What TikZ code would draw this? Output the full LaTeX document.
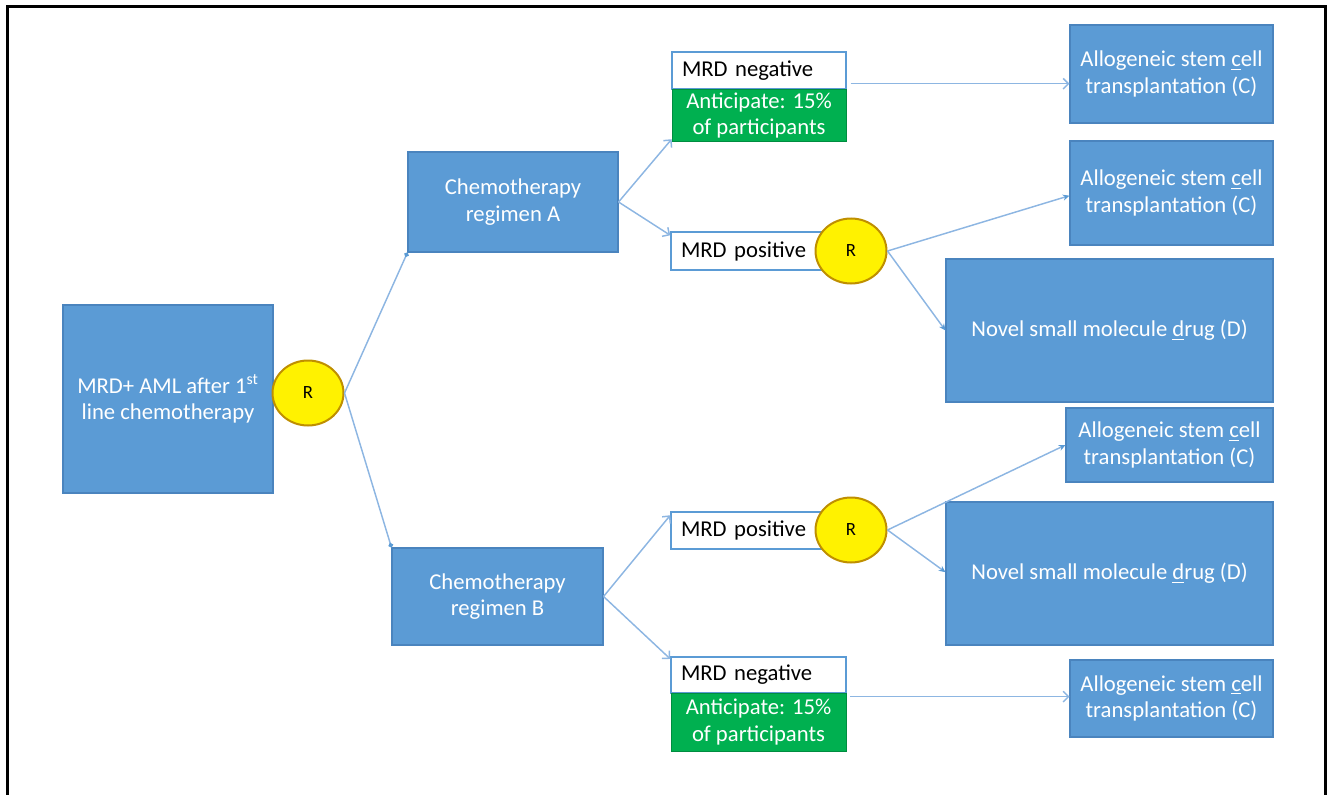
\documentclass[tikz,border=0pt]{standalone}
\usepackage{fontspec}
\setmainfont{Carlito}
\usetikzlibrary{arrows.meta,shapes.geometric}
\definecolor{boxblue}{HTML}{5B9BD5}
\definecolor{boxedge}{HTML}{4A84BE}
\definecolor{linkblue}{HTML}{8DB6E2}
\definecolor{tealgreen}{HTML}{00B050}
\definecolor{rring}{HTML}{BF8F00}
\newcommand{\pxl}[1]{#1*0.75pt}
\newcommand{\fs}{\fontsize{17}{19.75}\selectfont}
\tikzset{
  bluebox/.style={rectangle, fill=boxblue, draw=boxedge, line width=0.8pt, text=white, align=center, inner sep=0pt, font=\fs},
  whitebox/.style={rectangle, fill=white, draw=boxblue, line width=1.1pt, text=black, align=left, inner xsep=7.5pt, inner ysep=0pt, font=\fs},
  greenbox/.style={rectangle, fill=tealgreen, draw=tealgreen!80!black, line width=0.6pt, text=white, align=center, inner sep=0pt, font=\fs},
  rnode/.style={ellipse, fill=yellow, draw=rring, line width=1.5pt, inner sep=0pt, font=\fontsize{14}{16}\selectfont, minimum width=\pxl{71}, minimum height=\pxl{65}},
  link/.style={draw=linkblue, line width=1.1pt},
  dotlink/.style={link, -{Circle[length=3.5pt, color=boxblue, fill=boxblue]}},
  openlink/.style={link, -{Straight Barb[length=4pt, width=8pt]}},
  filllink/.style={link, -{Stealth[length=5pt, width=4.5pt, color=boxblue, fill=boxblue]}},
}
\begin{document}
\begin{tikzpicture}[x=0.75pt, y=-0.75pt]
\useasboundingbox (0,0) rectangle (1330,795);
\draw[line width=2.25pt] (7,796) -- (7,7) -- (1325,7) -- (1325,796);

% left part
\node[bluebox, minimum width=\pxl{210}, minimum height=\pxl{188}] (main) at (168,399)
  {MRD+ AML after 1\textsuperscript{st}\\line chemotherapy};
\node[rnode] (r1) at (308,393) {R};

\node[bluebox, minimum width=\pxl{210}, minimum height=\pxl{100}] (chemoA) at (513,202)
  {Chemotherapy\\regimen A};
\node[bluebox, minimum width=\pxl{211}, minimum height=\pxl{97}] (chemoB) at (497.5,596.5)
  {Chemotherapy\\regimen B};

% top branch
\node[whitebox, text width=\pxl{154}, minimum height=\pxl{37}] (negAw) at (759,70.5) {MRD negative};
\node[greenbox, minimum width=\pxl{174}, minimum height=\pxl{52}] (negAg) at (759,115.5)
  {Anticipate: 15\%\\of participants};
\node[whitebox, text width=\pxl{149}, minimum height=\pxl{38}] (posA) at (755.5,251) {MRD positive};
\node[rnode] (r2) at (851,251) {R};

% bottom branch
\node[whitebox, text width=\pxl{149}, minimum height=\pxl{37}] (posB) at (755.5,530.5) {MRD positive};
\node[rnode] (r3) at (851,530) {R};
\node[whitebox, text width=\pxl{155}, minimum height=\pxl{36}] (negBw) at (758.5,675) {MRD negative};
\node[greenbox, minimum width=\pxl{175}, minimum height=\pxl{58}] (negBg) at (758.5,722)
  {Anticipate: 15\%\\of participants};

% treatment boxes
\node[bluebox, minimum width=\pxl{203}, minimum height=\pxl{98}] (allo1) at (1171.5,74)
  {Allogeneic stem \underline{c}ell\\transplantation (C)};
\node[bluebox, minimum width=\pxl{203}, minimum height=\pxl{104}] (allo2) at (1171.5,193)
  {Allogeneic stem \underline{c}ell\\transplantation (C)};
\node[bluebox, minimum width=\pxl{327}, minimum height=\pxl{143}] (novel1) at (1109.5,330.5)
  {Novel small molecule \underline{d}rug (D)};
\node[bluebox, minimum width=\pxl{207}, minimum height=\pxl{74}] (allo3) at (1169.5,445)
  {Allogeneic stem \underline{c}ell\\transplantation (C)};
\node[bluebox, minimum width=\pxl{327}, minimum height=\pxl{143}] (novel2) at (1109.5,573.5)
  {Novel small molecule \underline{d}rug (D)};
\node[bluebox, minimum width=\pxl{203}, minimum height=\pxl{77}] (allo4) at (1171.5,698.5)
  {Allogeneic stem \underline{c}ell\\transplantation (C)};

% connectors
\draw[dotlink] (r1.east) -- (chemoA.south west);
\draw[dotlink] (r1.east) -- (chemoB.north west);

\draw[openlink] (chemoA.east) -- ([yshift=2pt]negAg.south west);
\draw[openlink] (chemoA.east) -- ([yshift=-3pt]posA.north west);
\draw[openlink] (chemoB.east) -- ([yshift=-3pt]posB.north west);
\draw[openlink] (chemoB.east) -- ([yshift=-2pt]negBw.north west);

\coordinate (nA) at ([xshift=3pt, yshift=4.5pt]negAw.south east);
\coordinate (nB) at ([xshift=3pt, yshift=-3pt]negBg.north east);
\draw[openlink] (nA) -- (nA -| allo1.west);
\draw[openlink] (nB) -- (nB -| allo4.west);

\draw[filllink] (r2.east) -- ([yshift=-2pt]allo2.west);
\draw[filllink] (r2.east) -- ([yshift=0pt]novel1.west);
\draw[filllink] (r3.east) -- ([yshift=0pt]allo3.west);
\draw[filllink] (r3.east) -- ([yshift=1pt]novel2.west);
\end{tikzpicture}
\end{document}
